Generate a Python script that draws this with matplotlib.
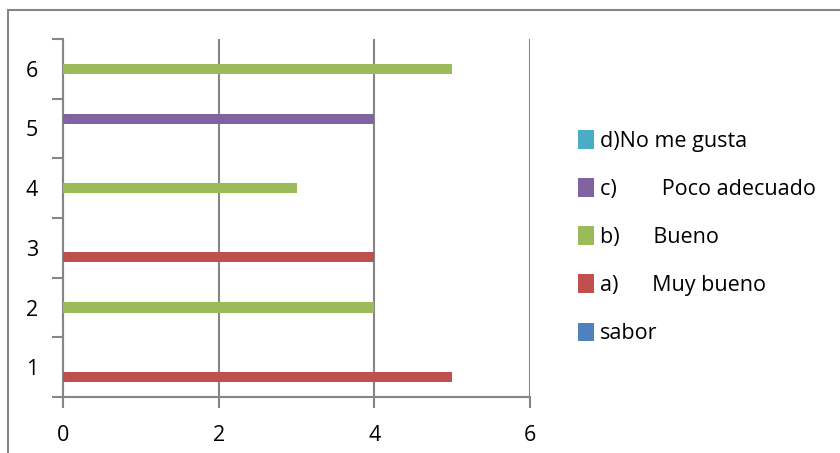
import matplotlib.pyplot as plt
import numpy as np
from matplotlib.patches import Rectangle

plt.rcParams['font.family'] = ['Open Sans', 'DejaVu Sans']

# categories 1..6 and one value per series
categories = ['1', '2', '3', '4', '5', '6']
series_names = ['sabor', 'a)      Muy bueno', 'b)      Bueno',
                'c)        Poco adecuado', 'd)No me gusta']
sabor = [0, 0, 0, 0, 0, 0]
muy_bueno = [5, 0, 4, 0, 0, 0]
bueno = [0, 4, 0, 3, 0, 5]
poco_adecuado = [0, 0, 0, 0, 4, 0]
no_me_gusta = [0, 0, 0, 0, 0, 0]
colors = ['#4F81BD', '#C0504D', '#9BBB59', '#8064A2', '#4BACC6']

series = [sabor, muy_bueno, bueno, poco_adecuado, no_me_gusta]

fig = plt.figure(figsize=(8.4, 4.53), dpi=100)
ax = fig.add_axes([63 / 840, 1 - 397 / 453, 467 / 840, 358 / 453])

y = np.arange(len(categories))
h = 0.8 / len(series)
handles = []
for i, (vals, name, c) in enumerate(zip(series, series_names, colors)):
    b = ax.barh(y - 0.4 + h * (i + 0.5), vals, height=h * 1.05, color=c,
                label=name, zorder=3)
    handles.append(b)

ax.set_xlim(0, 6)
ax.set_ylim(-0.5, len(categories) - 0.5)
ax.set_xticks([0, 2, 4, 6])
ax.set_yticks(y)
ax.set_yticklabels(categories)
ax.set_yticks(np.arange(-0.5, len(categories)), minor=True)
ax.tick_params(axis='y', which='major', length=0, pad=18, labelsize=15.5)
ax.tick_params(axis='y', which='minor', length=8, width=1.5, color='#868686')
ax.tick_params(axis='x', length=8, width=1.5, color='#868686', pad=12,
               labelsize=15.5)
ax.grid(axis='x', color='#868686', linewidth=1.5, zorder=0)
for s in ['top', 'right']:
    ax.spines[s].set_visible(False)
for s in ['left', 'bottom']:
    ax.spines[s].set_color('#868686')
    ax.spines[s].set_linewidth(1.5)

leg = fig.legend(handles[::-1], series_names[::-1], loc='upper left',
                 bbox_to_anchor=(578 / 840, 1 - 130 / 453), frameon=False,
                 fontsize=15.5, handlelength=0.72, handleheight=0.95,
                 handletextpad=0.3, labelspacing=1.23, borderaxespad=0,
                 borderpad=0)

# outer chart frame (top and left edges visible)
fig.patches.append(Rectangle((8 / 840, -0.1), 1.2, 1.1 - 10 / 453,
                             transform=fig.transFigure, fill=False,
                             edgecolor='#868686', linewidth=1.5))

fig.savefig('out.png', dpi=100)
